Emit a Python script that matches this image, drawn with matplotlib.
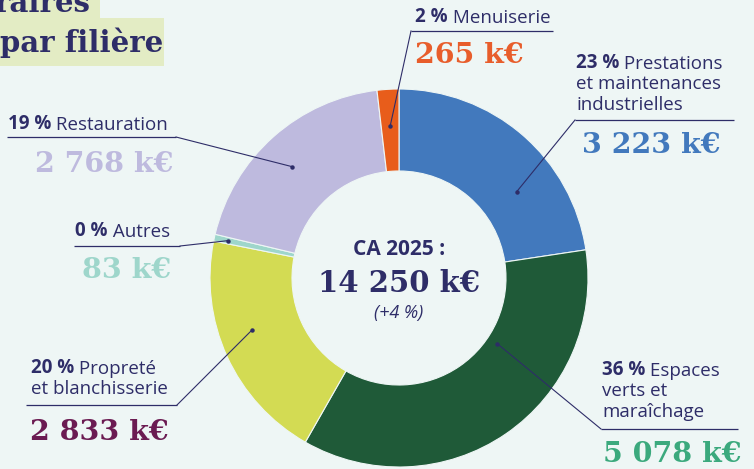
"""Répartition du chiffre d'affaires 2025 par filière — anneau avec étiquettes."""

import matplotlib

matplotlib.use("Agg")
import matplotlib.pyplot as plt
import numpy as np
from matplotlib.patches import Rectangle

W, H = 754, 469
BG = "#EEF6F5"
NAVY = "#2E2D68"
TITLE_BOX = "#E3ECC4"
SANS = "Open Sans"
SLAB = "DejaVu Serif"

# --- données (k€) ---------------------------------------------------------
categories = ["Prestations", "Espaces verts", "Propreté", "Autres",
              "Restauration", "Menuiserie"]
label_lines = [
    ["Prestations", "et maintenances", "industrielles"],
    ["Espaces", "verts et", "maraîchage"],
    ["Propreté", "et blanchisserie"],
    ["Autres"],
    ["Restauration"],
    ["Menuiserie"],
]
values = [3223, 5078, 2833, 83, 2768, 265]
shares = [23, 36, 20, 0, 19, 2]
total = 14250
growth = "+4 %"

colors = ["#4279BD", "#1F5A38", "#D3DB53", "#9ED6CB", "#BEBADE", "#E85D1B"]
value_colors = ["#4279BD", "#3BA97D", "#6B1B52", "#9ED6CB", "#BEBADE", "#E85D2B"]

# --- mise en page (pixels, origine en haut à gauche) ------------------------
CX, CY, R_OUT, RING = 399, 278, 189, 82
# x texte, 1re ligne de base, x valeur, base valeur, y trait, x0, x1, coude, frac, rayon
LAYOUT = [
    dict(tx=576, ty=68, vx=582, vy=153, ly=120, lx0=575, lx1=734, ex=575, frac=0.66, r=146),
    dict(tx=602, ty=375, vx=603, vy=462, ly=429, lx0=601, lx1=738, ex=601, frac=0.33, r=118),
    dict(tx=31, ty=373, vx=30, vy=440, ly=405, lx0=26, lx1=177, ex=177, frac=0.57, r=156),
    dict(tx=75, ty=236, vx=82, vy=278, ly=246, lx0=74, lx1=180, ex=180, frac=0.5, r=175),
    dict(tx=8, ty=129, vx=35, vy=172, ly=137, lx0=7, lx1=176, ex=176, frac=0.47, r=154),
    dict(tx=415, ty=22, vx=415, vy=63, ly=31, lx0=411, lx1=553, ex=411, frac=0.5, r=152),
]
LINE_H = 21
FS = 13.5


def py(y):
    return H - y


def fmt_k(v):
    return f"{v:,}".replace(",", " ") + " k€"


def main():
    fig = plt.figure(figsize=(W / 100, H / 100), dpi=100, facecolor=BG)
    ax = fig.add_axes((0, 0, 1, 1))
    ax.set_facecolor(BG)

    wedges, _ = ax.pie(
        values, colors=colors, startangle=90, counterclock=False,
        center=(CX, py(CY)), radius=R_OUT,
        wedgeprops=dict(width=RING, edgecolor=BG, linewidth=0.8),
    )
    ax.set_xlim(0, W)
    ax.set_ylim(0, H)
    ax.set_aspect("equal")
    ax.axis("off")

    # Titre (coupé en haut à gauche)
    ax.add_patch(Rectangle((0, py(18)), 100, 18, color=TITLE_BOX, lw=0))
    ax.add_patch(Rectangle((0, py(66)), 164, 48, color=TITLE_BOX, lw=0))
    ax.text(-6, py(12), "raires", family=SLAB, weight="bold", fontsize=21,
            color=NAVY, va="baseline", ha="left")
    ax.text(0, py(52), "par filière", family=SLAB, weight="bold", fontsize=21,
            color=NAVY, va="baseline", ha="left")

    for i, w in enumerate(wedges):
        L = LAYOUT[i]
        # point d'ancrage dans le secteur
        ang = np.deg2rad(w.theta2 - L["frac"] * (w.theta2 - w.theta1))
        dx, dy = CX + L["r"] * np.cos(ang), py(CY) + L["r"] * np.sin(ang)
        ax.plot([L["lx0"], L["lx1"]], [py(L["ly"])] * 2, color=NAVY, lw=0.9,
                solid_capstyle="butt")
        ax.plot([L["ex"], dx], [py(L["ly"]), dy], color=NAVY, lw=0.8)
        ax.plot(dx, dy, "o", color=NAVY, ms=2.2)

        lines = label_lines[i]
        t = ax.text(L["tx"], py(L["ty"]), f"{shares[i]} %", family=SANS,
                    weight="bold", fontsize=FS, color=NAVY, va="baseline")
        ax.annotate(" " + lines[0], xy=(1, 0), xycoords=t, family=SANS,
                    fontsize=FS, color=NAVY, va="bottom", ha="left")
        for k, ln in enumerate(lines[1:], start=1):
            ax.text(L["tx"], py(L["ty"] + k * LINE_H), ln, family=SANS,
                    fontsize=FS, color=NAVY, va="baseline")
        ax.text(L["vx"], py(L["vy"]), fmt_k(values[i]), family=SLAB,
                weight="heavy", fontsize=20.5, color=value_colors[i],
                va="baseline")

    # Centre
    ax.text(CX, py(255), "CA 2025 :", family=SANS, weight="bold", fontsize=15,
            color=NAVY, ha="center", va="baseline")
    ax.text(CX, py(292), fmt_k(total), family=SLAB, weight="bold", fontsize=21,
            color=NAVY, ha="center", va="baseline")
    ax.text(CX, py(318), f"({growth})", family=SANS, style="italic",
            fontsize=13, color=NAVY, ha="center", va="baseline")

    fig.savefig("out.png", dpi=100, facecolor=BG)
    plt.close(fig)


if __name__ == "__main__":
    main()
